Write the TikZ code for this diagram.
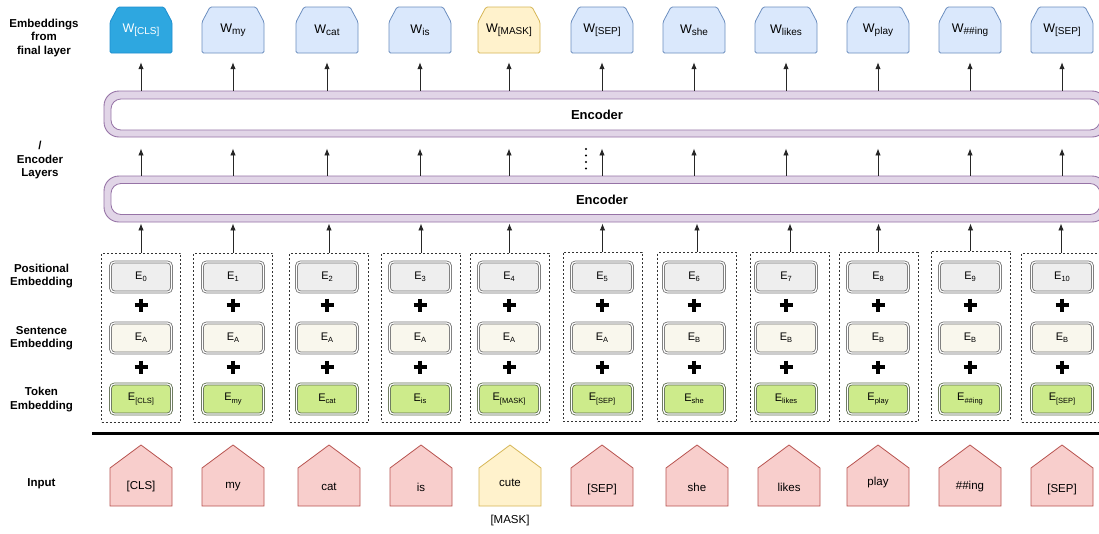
\documentclass[tikz,border=0pt]{standalone}
\usepackage{fontspec}
\setmainfont{Liberation Sans}
\usetikzlibrary{arrows.meta,backgrounds}
\definecolor{clsfill}{HTML}{2EA7E0}
\definecolor{clsdraw}{HTML}{1F8FCF}
\definecolor{bluefill}{HTML}{DAE8FC}
\definecolor{bluedraw}{HTML}{6C8EBF}
\definecolor{maskfill}{HTML}{FFF2CC}
\definecolor{maskdraw}{HTML}{D6B656}
\definecolor{encfill}{HTML}{E1D5E7}
\definecolor{encdraw}{HTML}{9673A6}
\definecolor{posfill}{HTML}{EEEEEE}
\definecolor{senfill}{HTML}{F9F7ED}
\definecolor{tokfill}{HTML}{CDEB8B}
\definecolor{embdraw}{HTML}{707070}
\definecolor{tokdraw}{HTML}{5B6B4B}
\definecolor{pentfill}{HTML}{F8CECC}
\definecolor{pentdraw}{HTML}{B85450}
\newcommand\mkW[1]{W\raisebox{-0.35ex}{\fontsize{10}{10}\selectfont #1}}
\newcommand\mkE[1]{E\raisebox{-0.4ex}{\fontsize{7.5}{8}\selectfont #1}}
\newcommand\drawW[2]{\filldraw[#2, line width=0.8pt, rounded corners=1.5pt] (#1-31,53) -- (#1-31,22) -- (#1-23,7) -- (#1+23,7) -- (#1+31,22) -- (#1+31,53) -- cycle;}
\newcommand\drawP[2]{\filldraw[#2, line width=0.8pt] (#1-31,506) -- (#1-31,468) -- (#1,445) -- (#1+31,468) -- (#1+31,506) -- cycle;}
\tikzset{
  lab/.style={font=\fontsize{11.5}{13.5}\selectfont\bfseries, align=center, inner sep=0pt},
  wtxt/.style={minimum width=62pt, minimum height=46pt, inner sep=0pt, font=\fontsize{12.5}{14}\selectfont},
  emb/.style={minimum width=61pt, minimum height=30pt, inner sep=0pt, rounded corners=4pt, double=white, double distance=1.2pt, line width=0.8pt, font=\fontsize{11}{12}\selectfont},
  posbox/.style={emb, draw=embdraw, fill=posfill},
  senbox/.style={emb, draw=embdraw, fill=senfill},
  tokbox/.style={emb, draw=tokdraw, fill=tokfill},
  dbox/.style={draw=black!80, dash pattern=on 2pt off 2pt, line width=0.7pt, minimum width=79pt, minimum height=169pt, inner sep=0pt},
  arr/.style={-{Latex[length=7pt,width=5.5pt]}, line width=0.9pt, draw=black!85},
  encout/.style={draw=encdraw, fill=encfill, line width=0.9pt, rounded corners=15pt, minimum width=1003pt, minimum height=46pt, inner sep=0pt},
  encin/.style={draw=encdraw, fill=white, line width=0.8pt, rounded corners=10pt, minimum width=989pt, minimum height=31pt, inner sep=0pt},
  enctxt/.style={font=\fontsize{13}{14}\selectfont\bfseries, inner sep=0pt},
  intxt/.style={font=\fontsize{11.5}{13}\selectfont, inner sep=0pt},
  plussign/.style={line width=4pt, draw=black},
}
\begin{document}
\begin{tikzpicture}[x=1pt,y=-1pt]
\useasboundingbox (0,0) rectangle (1099,533);
\clip (0,0) rectangle (1099,533);
\fill[white] (0,0) rectangle (1099,533);

% left labels
\node[lab] (lab1) at (44,38) {Embeddings\\from\\final layer};
\node[lab] (lab2) at (40,160.5) {/\\Encoder\\Layers};
\node[lab] (lab3) at (41.5,276) {Positional\\Embedding};
\node[lab] (lab4) at (41.5,338) {Sentence\\Embedding};
\node[lab] (lab5) at (41.5,399.5) {Token\\Embedding};
\node[lab] (lab6) at (41.5,484) {Input};

% W shapes
\drawW{141}{fill=clsfill, draw=clsdraw}
\drawW{233}{fill=bluefill, draw=bluedraw}
\drawW{327}{fill=bluefill, draw=bluedraw}
\drawW{420}{fill=bluefill, draw=bluedraw}
\drawW{509}{fill=maskfill, draw=maskdraw}
\drawW{602}{fill=bluefill, draw=bluedraw}
\drawW{694}{fill=bluefill, draw=bluedraw}
\drawW{786}{fill=bluefill, draw=bluedraw}
\drawW{878}{fill=bluefill, draw=bluedraw}
\drawW{970}{fill=bluefill, draw=bluedraw}
\drawW{1062}{fill=bluefill, draw=bluedraw}
\node[wtxt, text=white] (w1) at (141,30) {\mkW{[CLS]}};
\node[wtxt] (w2) at (233,30) {\mkW{my}};
\node[wtxt] (w3) at (327,30) {\mkW{cat}};
\node[wtxt] (w4) at (420,30) {\mkW{is}};
\node[wtxt] (w5) at (509,30) {\mkW{[MASK]}};
\node[wtxt] (w6) at (602,30) {\mkW{[SEP]}};
\node[wtxt] (w7) at (694,30) {\mkW{she}};
\node[wtxt] (w8) at (786,30) {\mkW{likes}};
\node[wtxt] (w9) at (878,30) {\mkW{play}};
\node[wtxt] (w10) at (970,30) {\mkW{\#\#ing}};
\node[wtxt] (w11) at (1062,30) {\mkW{[SEP]}};

% encoders
\node[encout] (enc1) at (605.5,114) {};
\node[encin] (enc1in) at (605.5,114.5) {};
\node[enctxt] (enc1t) at (597,115) {Encoder};
\node[encout] (enc2) at (605.5,199) {};
\node[encin] (enc2in) at (605.5,199) {};
\node[enctxt] (enc2t) at (602,199.5) {Encoder};
\foreach \yy in {149,155.5,162,168.5} \fill (586,\yy) circle (1.2);

% dashed boxes
\node[dbox] (d1) at (141,337.5) {};
\node[dbox] (d2) at (233,337.5) {};
\node[dbox] (d3) at (329,337.5) {};
\node[dbox] (d4) at (421,337.5) {};
\node[dbox] (d5) at (509.5,337.5) {};
\node[dbox] (d6) at (602.5,336.5) {};
\node[dbox] (d7) at (697,337) {};
\node[dbox] (d8) at (790,337) {};
\node[dbox] (d9) at (878.5,337) {};
\node[dbox] (d10) at (970.5,335.5) {};
\node[dbox] (d11) at (1061,337.5) {};

% embeddings
\node[posbox] (p1) at (141,277) {\mkE{0}};
\node[posbox] (p2) at (233,277) {\mkE{1}};
\node[posbox] (p3) at (327,277) {\mkE{2}};
\node[posbox] (p4) at (420,277) {\mkE{3}};
\node[posbox] (p5) at (509,277) {\mkE{4}};
\node[posbox] (p6) at (602,277) {\mkE{5}};
\node[posbox] (p7) at (694,277) {\mkE{6}};
\node[posbox] (p8) at (786,277) {\mkE{7}};
\node[posbox] (p9) at (878,277) {\mkE{8}};
\node[posbox] (p10) at (970,277) {\mkE{9}};
\node[posbox] (p11) at (1062,277) {\mkE{10}};
\node[senbox] (s1) at (141,338) {\mkE{A}};
\node[senbox] (s2) at (233,338) {\mkE{A}};
\node[senbox] (s3) at (327,338) {\mkE{A}};
\node[senbox] (s4) at (420,338) {\mkE{A}};
\node[senbox] (s5) at (509,338) {\mkE{A}};
\node[senbox] (s6) at (602,338) {\mkE{A}};
\node[senbox] (s7) at (694,338) {\mkE{B}};
\node[senbox] (s8) at (786,338) {\mkE{B}};
\node[senbox] (s9) at (878,338) {\mkE{B}};
\node[senbox] (s10) at (970,338) {\mkE{B}};
\node[senbox] (s11) at (1062,338) {\mkE{B}};
\node[tokbox] (t1) at (141,399) {\mkE{[CLS]}};
\node[tokbox] (t2) at (233,399) {\mkE{my}};
\node[tokbox] (t3) at (327,399) {\mkE{cat}};
\node[tokbox] (t4) at (420,399) {\mkE{is}};
\node[tokbox] (t5) at (509,399) {\mkE{[MASK]}};
\node[tokbox] (t6) at (602,399) {\mkE{[SEP]}};
\node[tokbox] (t7) at (694,399) {\mkE{she}};
\node[tokbox] (t8) at (786,399) {\mkE{likes}};
\node[tokbox] (t9) at (878,399) {\mkE{play}};
\node[tokbox] (t10) at (970,399) {\mkE{\#\#ing}};
\node[tokbox] (t11) at (1062,399) {\mkE{[SEP]}};
\foreach \x in {141,233,327,420,509,602,694,786,878,970,1062}
  \foreach \yy in {305,367}
    \draw[plussign] (\x-6.5,\yy) -- (\x+6.5,\yy) (\x,\yy-6.5) -- (\x,\yy+6.5);

% separator
\draw[line width=3pt] (92,433) -- (1099,433);

% input pentagons
\drawP{141}{fill=pentfill, draw=pentdraw}
\drawP{233}{fill=pentfill, draw=pentdraw}
\drawP{329}{fill=pentfill, draw=pentdraw}
\drawP{421}{fill=pentfill, draw=pentdraw}
\drawP{510}{fill=maskfill, draw=maskdraw}
\drawP{602}{fill=pentfill, draw=pentdraw}
\drawP{697}{fill=pentfill, draw=pentdraw}
\drawP{789}{fill=pentfill, draw=pentdraw}
\drawP{878}{fill=pentfill, draw=pentdraw}
\drawP{970}{fill=pentfill, draw=pentdraw}
\drawP{1062}{fill=pentfill, draw=pentdraw}
\node[intxt] (in1) at (141,487) {[CLS]};
\node[intxt] (in2) at (233,487) {my};
\node[intxt] (in3) at (329,487) {cat};
\node[intxt] (in4) at (421,487) {is};
\node[intxt] (in5) at (510,483) {cute};
\node[intxt] (in6) at (602,490) {[SEP]};
\node[intxt] (in7) at (697,487) {she};
\node[intxt] (in8) at (789,487) {likes};
\node[intxt] (in9) at (878,483) {play};
\node[intxt] (in10) at (970,487) {\#\#ing};
\node[intxt] (in11) at (1062,490) {[SEP]};
\node[intxt] (maskl) at (510,521) {[MASK]};

% arrows
\foreach \i in {1,...,11} {
  \draw[arr, shorten >=9pt] (w\i |- enc1.north) -- (w\i.south);
  \draw[arr, shorten >=11pt] (w\i |- enc2.north) -- (w\i |- enc1.south);
  \draw[arr, shorten >=1pt] (d\i.north) -- (d\i.north |- enc2.south);
}
\end{tikzpicture}
\end{document}
